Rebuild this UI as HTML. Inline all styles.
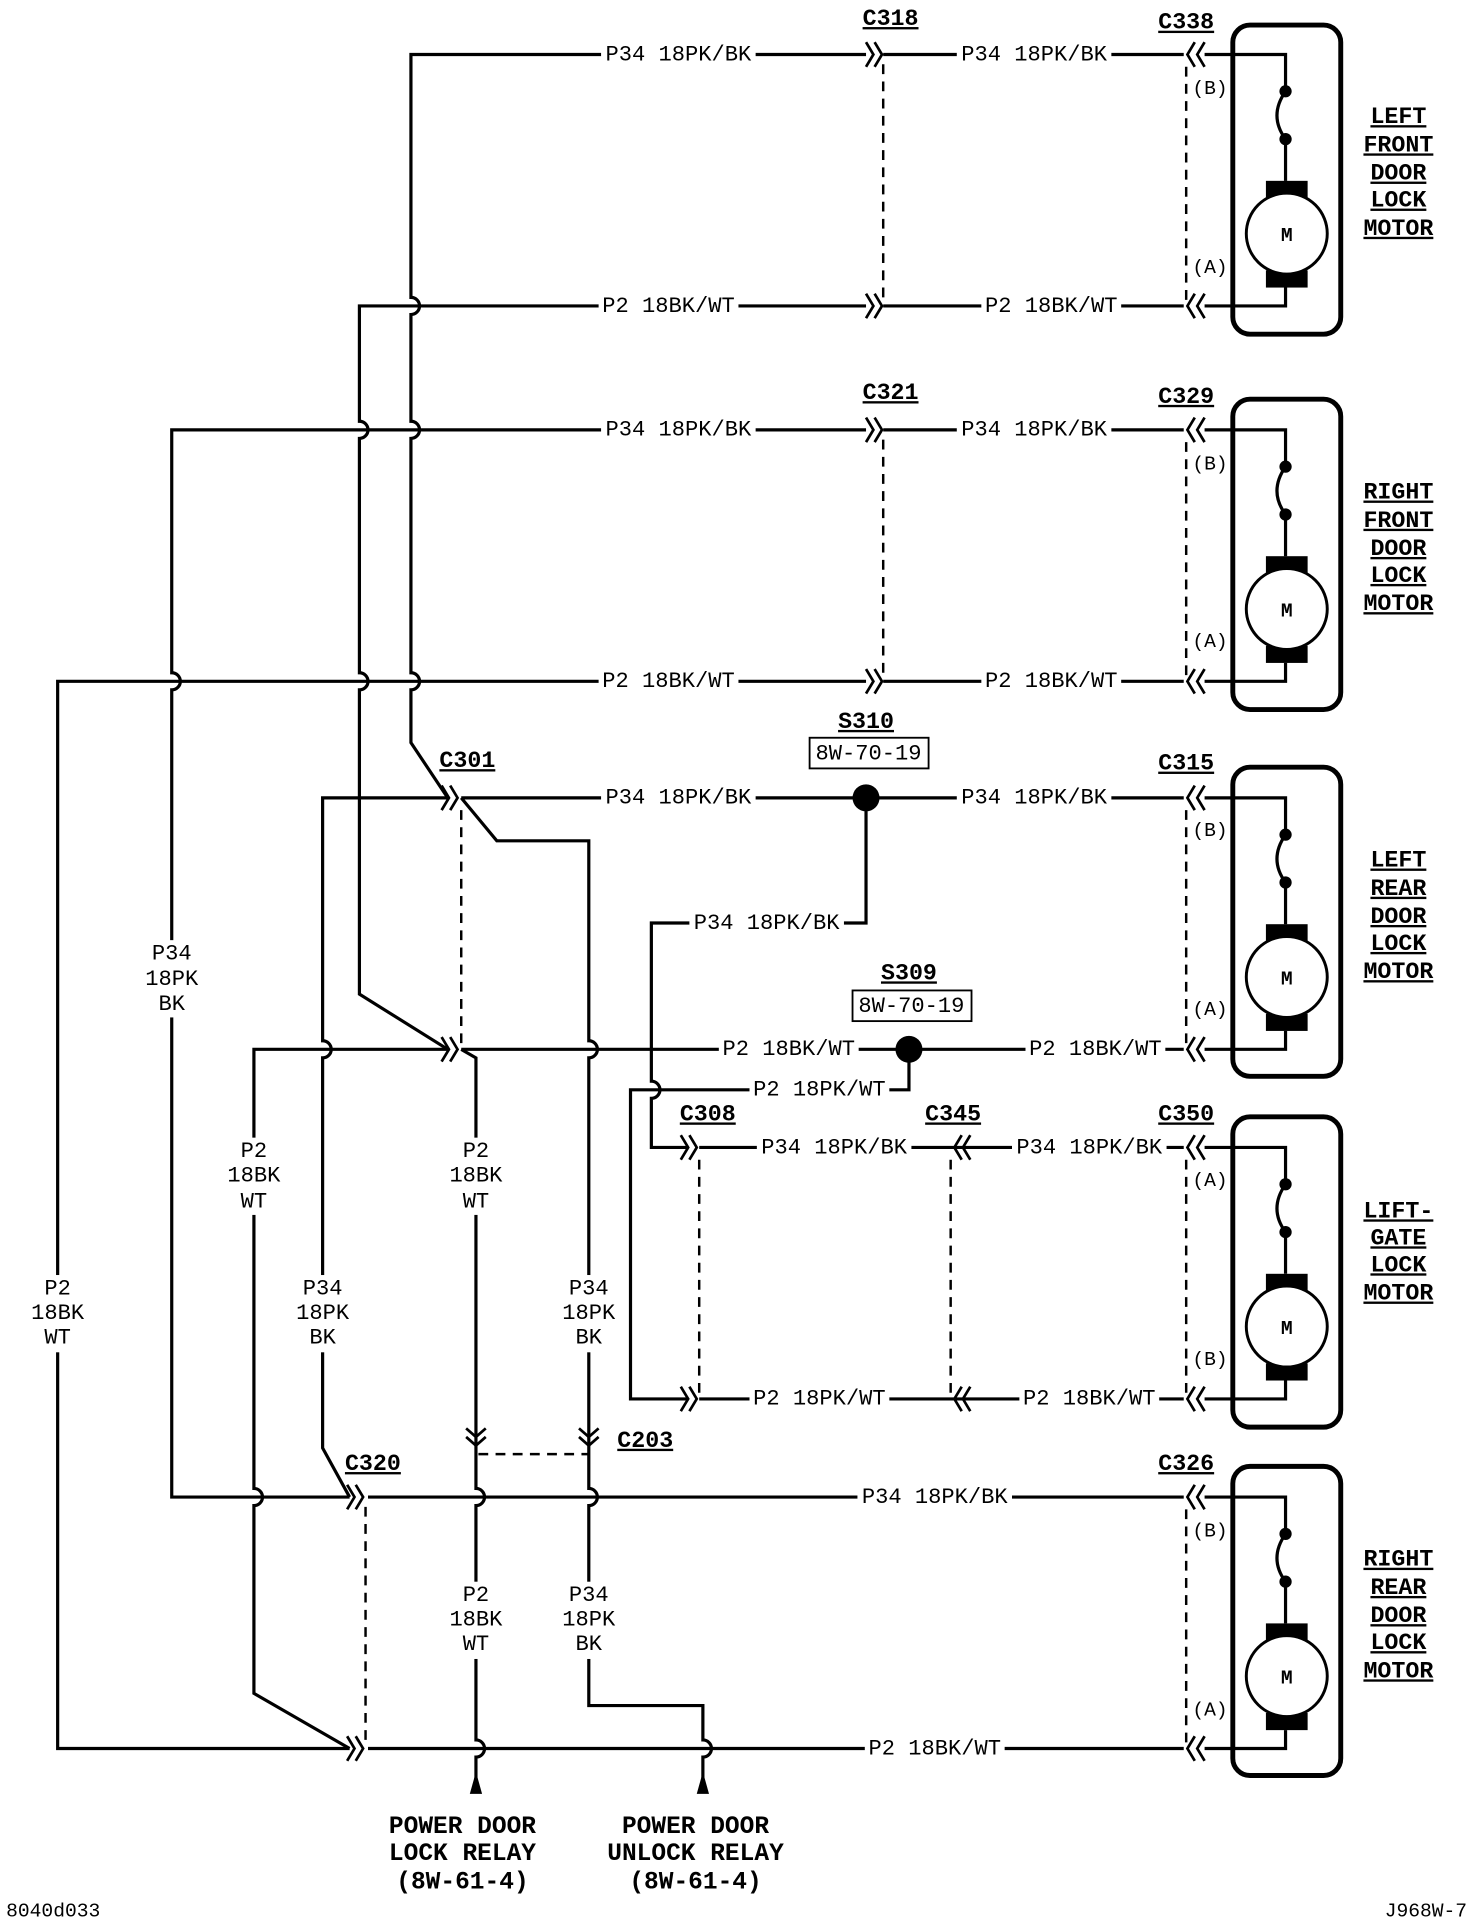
<!DOCTYPE html>
<html><head><meta charset="utf-8"><style>
html,body{margin:0;padding:0;background:#fff;}
svg{display:block}
.w{fill:none;stroke:#000;stroke-width:2.6;stroke-linejoin:miter}
.d{fill:none;stroke:#000;stroke-width:2;stroke-dasharray:8,6}
.c{fill:none;stroke:#000;stroke-width:2.2}
.t,.tn{font-family:"Liberation Mono",monospace;font-size:18px;fill:#000;text-anchor:middle;dominant-baseline:middle}
.b{font-family:"Liberation Mono",monospace;font-size:19px;font-weight:bold;fill:#000;text-anchor:middle;text-decoration:underline}
.r{font-family:"Liberation Mono",monospace;font-size:20px;font-weight:bold;fill:#000;text-anchor:middle}
.p{font-family:"Liberation Mono",monospace;font-size:16px;fill:#000;dominant-baseline:middle}
.bg rect{fill:#fff;stroke:none}
</style></head><body>
<svg width="1472" height="1922" viewBox="0 0 1200 1566" xmlns="http://www.w3.org/2000/svg">
<path class="w" d="M706,44 H335 V242 a7,7 0 0 1 0,14 V343 a7,7 0 0 1 0,14 V548 a7,7 0 0 1 0,14 V605 L365,650"/>
<path class="w" d="M706,249 H293 V343 a7,7 0 0 1 0,14 V548 a7,7 0 0 1 0,14 V810 L365,855"/>
<path class="w" d="M706,350 H140 V548 a7,7 0 0 1 0,14 V1220 H285"/>
<path class="w" d="M706,555 H47 V1425 H285"/>
<path class="w" d="M365,650 H263 V848 a7,7 0 0 1 0,14 V1180 L285,1220"/>
<path class="w" d="M365,855 H207 V1213 a7,7 0 0 1 0,14 V1380 L285,1425"/>
<path class="w" d="M720,44 H965 M720,249 H965 M720,350 H965 M720,555 H965"/>
<path class="w" d="M376,650 H965"/>
<path class="w" d="M376,650 L405,685 H480 V848 a7,7 0 0 1 0,14 V1170 V1213 a7,7 0 0 1 0,14 V1390 H573 V1418 a7,7 0 0 1 0,14 V1450"/>
<path class="w" d="M376,855 H965"/>
<path class="w" d="M376,855 L388,862 V1170 V1213 a7,7 0 0 1 0,14 V1418 a7,7 0 0 1 0,14 V1450"/>
<polygon points="388,1444 383,1462 393,1462" fill="#000"/>
<polygon points="573,1444 568,1462 578,1462" fill="#000"/>
<path class="w" d="M706,650 V752 H531 V881 a7,7 0 0 1 0,14 V935 H560"/>
<path class="w" d="M741,855 V888 H514 V1140 H560"/>
<path class="w" d="M570,935 H965 M570,1140 H965"/>
<path class="w" d="M300,1220 H965 M300,1425 H965"/>
<circle cx="706" cy="650" r="11" fill="#000"/>
<circle cx="741" cy="855" r="11" fill="#000"/>
<g class="c">
<path d="M706,34 l6,10 l-6,10 M713,34 l6,10 l-6,10"/>
<path d="M706,239 l6,10 l-6,10 M713,239 l6,10 l-6,10"/>
<path d="M706,340 l6,10 l-6,10 M713,340 l6,10 l-6,10"/>
<path d="M706,545 l6,10 l-6,10 M713,545 l6,10 l-6,10"/>
<path d="M360,640 l6,10 l-6,10 M367,640 l6,10 l-6,10"/>
<path d="M360,845 l6,10 l-6,10 M367,845 l6,10 l-6,10"/>
<path d="M555,925 l6,10 l-6,10 M562,925 l6,10 l-6,10"/>
<path d="M555,1130 l6,10 l-6,10 M562,1130 l6,10 l-6,10"/>
<path d="M283,1210 l6,10 l-6,10 M290,1210 l6,10 l-6,10"/>
<path d="M283,1415 l6,10 l-6,10 M290,1415 l6,10 l-6,10"/>
<path d="M784,925 l-6,10 l6,10 M791,925 l-6,10 l6,10"/>
<path d="M784,1130 l-6,10 l6,10 M791,1130 l-6,10 l6,10"/>
<path d="M974,34 l-6,10 l6,10 M982,34 l-6,10 l6,10"/>
<path d="M974,239 l-6,10 l6,10 M982,239 l-6,10 l6,10"/>
<path d="M974,340 l-6,10 l6,10 M982,340 l-6,10 l6,10"/>
<path d="M974,545 l-6,10 l6,10 M982,545 l-6,10 l6,10"/>
<path d="M974,640 l-6,10 l6,10 M982,640 l-6,10 l6,10"/>
<path d="M974,845 l-6,10 l6,10 M982,845 l-6,10 l6,10"/>
<path d="M974,925 l-6,10 l6,10 M982,925 l-6,10 l6,10"/>
<path d="M974,1130 l-6,10 l6,10 M982,1130 l-6,10 l6,10"/>
<path d="M974,1210 l-6,10 l6,10 M982,1210 l-6,10 l6,10"/>
<path d="M974,1415 l-6,10 l6,10 M982,1415 l-6,10 l6,10"/>
<path d="M380,1164 l8,7 l8,-7 M380,1171 l8,7 l8,-7"/>
<path d="M472,1164 l8,7 l8,-7 M472,1171 l8,7 l8,-7"/>
</g>
<g class="d">
<path d="M720,52 V245 M720,358 V550 M376,660 V850 M570,945 V1135 M775,945 V1135 M298,1228 V1420 M390,1185 H480"/>
<path d="M967,54 V245 M967,360 V550 M967,660 V850 M967,945 V1135 M967,1230 V1420"/>
</g>
<g class="bg">
<rect x="490" y="34" width="126" height="20"/><rect x="780" y="34" width="126" height="20"/>
<rect x="490" y="340" width="126" height="20"/><rect x="780" y="340" width="126" height="20"/>
<rect x="490" y="640" width="126" height="20"/><rect x="780" y="640" width="126" height="20"/>
<rect x="562" y="742" width="126" height="20"/>
<rect x="617" y="925" width="126" height="20"/><rect x="825" y="925" width="126" height="20"/>
<rect x="699" y="1210" width="126" height="20"/>
<rect x="488" y="239" width="114" height="20"/><rect x="800" y="239" width="114" height="20"/>
<rect x="488" y="545" width="114" height="20"/><rect x="800" y="545" width="114" height="20"/>
<rect x="586" y="845" width="114" height="20"/><rect x="836" y="845" width="114" height="20"/>
<rect x="611" y="878" width="114" height="20"/>
<rect x="611" y="1130" width="114" height="20"/><rect x="831" y="1130" width="114" height="20"/>
<rect x="705" y="1415" width="114" height="20"/>
<rect x="114" y="766" width="52" height="63"/>
<rect x="21" y="1039" width="52" height="63"/>
<rect x="181" y="927" width="52" height="63"/>
<rect x="362" y="927" width="52" height="63"/>
<rect x="237" y="1039" width="52" height="63"/>
<rect x="454" y="1039" width="52" height="63"/>
<rect x="362" y="1289" width="52" height="63"/>
<rect x="454" y="1289" width="52" height="63"/>
<rect x="970" y="63" width="31" height="18"/><rect x="970" y="209" width="31" height="18"/>
<rect x="970" y="369" width="31" height="18"/><rect x="970" y="514" width="31" height="18"/>
<rect x="970" y="668" width="31" height="18"/><rect x="970" y="814" width="31" height="18"/>
<rect x="970" y="953" width="31" height="18"/><rect x="970" y="1099" width="31" height="18"/>
<rect x="970" y="1239" width="31" height="18"/><rect x="970" y="1385" width="31" height="18"/>
</g>
<g class="t">
<text x="553" y="44">P34 18PK/BK</text><text x="843" y="44">P34 18PK/BK</text>
<text x="545" y="249">P2 18BK/WT</text><text x="857" y="249">P2 18BK/WT</text>
<text x="553" y="350">P34 18PK/BK</text><text x="843" y="350">P34 18PK/BK</text>
<text x="545" y="555">P2 18BK/WT</text><text x="857" y="555">P2 18BK/WT</text>
<text x="553" y="650">P34 18PK/BK</text><text x="843" y="650">P34 18PK/BK</text>
<text x="625" y="752">P34 18PK/BK</text>
<text x="643" y="855">P2 18BK/WT</text><text x="893" y="855">P2 18BK/WT</text>
<text x="668" y="888">P2 18PK/WT</text>
<text x="680" y="935">P34 18PK/BK</text><text x="888" y="935">P34 18PK/BK</text>
<text x="668" y="1140">P2 18PK/WT</text><text x="888" y="1140">P2 18BK/WT</text>
<text x="762" y="1220">P34 18PK/BK</text><text x="762" y="1425">P2 18BK/WT</text>
<text x="140" y="777">P34</text><text x="140" y="798">18PK</text><text x="140" y="818">BK</text>
<text x="47" y="1050">P2</text><text x="47" y="1070">18BK</text><text x="47" y="1090">WT</text>
<text x="207" y="938">P2</text><text x="207" y="958">18BK</text><text x="207" y="979">WT</text>
<text x="388" y="938">P2</text><text x="388" y="958">18BK</text><text x="388" y="979">WT</text>
<text x="263" y="1050">P34</text><text x="263" y="1070">18PK</text><text x="263" y="1090">BK</text>
<text x="480" y="1050">P34</text><text x="480" y="1070">18PK</text><text x="480" y="1090">BK</text>
<text x="388" y="1300">P2</text><text x="388" y="1320">18BK</text><text x="388" y="1340">WT</text>
<text x="480" y="1300">P34</text><text x="480" y="1320">18PK</text><text x="480" y="1340">BK</text>
</g>
<text class="b" x="706" y="593">S310</text>
<rect x="660" y="601" width="97" height="25" fill="#fff" stroke="#000" stroke-width="1.5"/>
<text class="tn" x="708" y="614">8W-70-19</text>
<text class="b" x="741" y="798">S309</text>
<rect x="695" y="807" width="97" height="25" fill="#fff" stroke="#000" stroke-width="1.5"/>
<text class="tn" x="743" y="820">8W-70-19</text>
<g class="b">
<text x="726" y="20">C318</text><text x="967" y="23">C338</text>
<text x="726" y="325">C321</text><text x="967" y="328">C329</text>
<text x="381" y="625">C301</text><text x="967" y="627">C315</text>
<text x="577" y="913">C308</text><text x="777" y="913">C345</text><text x="967" y="913">C350</text>
<text x="304" y="1198">C320</text><text x="526" y="1179">C203</text><text x="967" y="1198">C326</text>
</g>
<rect x="1005" y="20" width="88" height="252" rx="14" fill="none" stroke="#000" stroke-width="4"/>
<rect x="1005" y="325" width="88" height="253" rx="14" fill="none" stroke="#000" stroke-width="4"/>
<rect x="1005" y="625" width="88" height="252" rx="14" fill="none" stroke="#000" stroke-width="4"/>
<rect x="1005" y="910" width="88" height="253" rx="14" fill="none" stroke="#000" stroke-width="4"/>
<rect x="1005" y="1195" width="88" height="252" rx="14" fill="none" stroke="#000" stroke-width="4"/>
<defs>
<g id="mot">
<path class="w" d="M982,0 H1048 V30 M1048,69 V103 M1048,190 V205 H982"/>
<path class="w" d="M1048,30 Q1034,50 1048,69"/>
<circle cx="1048" cy="30" r="5" fill="#000"/><circle cx="1048" cy="69" r="5" fill="#000"/>
<rect x="1032" y="103" width="34" height="14" fill="#000"/>
<rect x="1032" y="176" width="34" height="14" fill="#000"/>
<circle cx="1049" cy="146" r="33" fill="#fff" stroke="#000" stroke-width="2.4"/>
<text x="1049" y="152" font-family="Liberation Mono,monospace" font-size="16" font-weight="bold" text-anchor="middle">M</text>
</g>
</defs>
<use href="#mot" transform="translate(0,44)"/>
<use href="#mot" transform="translate(0,350)"/>
<use href="#mot" transform="translate(0,650)"/>
<use href="#mot" transform="translate(0,935)"/>
<use href="#mot" transform="translate(0,1220)"/>
<g class="p">
<text x="972" y="72">(B)</text><text x="972" y="218">(A)</text>
<text x="972" y="378">(B)</text><text x="972" y="523">(A)</text>
<text x="972" y="677">(B)</text><text x="972" y="823">(A)</text>
<text x="972" y="962">(A)</text><text x="972" y="1108">(B)</text>
<text x="972" y="1248">(B)</text><text x="972" y="1394">(A)</text>
</g>
<g class="b">
<text x="1140" y="100">LEFT</text><text x="1140" y="123">FRONT</text><text x="1140" y="146">DOOR</text><text x="1140" y="168">LOCK</text><text x="1140" y="191">MOTOR</text>
<text x="1140" y="406">RIGHT</text><text x="1140" y="429">FRONT</text><text x="1140" y="452">DOOR</text><text x="1140" y="474">LOCK</text><text x="1140" y="497">MOTOR</text>
<text x="1140" y="706">LEFT</text><text x="1140" y="729">REAR</text><text x="1140" y="752">DOOR</text><text x="1140" y="774">LOCK</text><text x="1140" y="797">MOTOR</text>
<text x="1140" y="992">LIFT-</text><text x="1140" y="1014">GATE</text><text x="1140" y="1036">LOCK</text><text x="1140" y="1059">MOTOR</text>
<text x="1140" y="1276">RIGHT</text><text x="1140" y="1299">REAR</text><text x="1140" y="1322">DOOR</text><text x="1140" y="1344">LOCK</text><text x="1140" y="1367">MOTOR</text>
</g>
<g class="r">
<text x="377" y="1494">POWER DOOR</text><text x="377" y="1516">LOCK RELAY</text><text x="377" y="1539">(8W-61-4)</text>
<text x="567" y="1494">POWER DOOR</text><text x="567" y="1516">UNLOCK RELAY</text><text x="567" y="1539">(8W-61-4)</text>
</g>
<text x="5" y="1562" font-family="Liberation Mono,monospace" font-size="16">8040d033</text>
<text x="1196" y="1562" font-family="Liberation Mono,monospace" font-size="16" text-anchor="end">J968W-7</text>
</svg>
</body></html>
